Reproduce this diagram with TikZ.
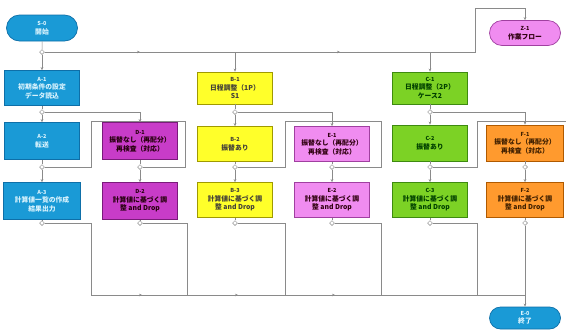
\documentclass[tikz,border=0pt]{standalone}
\usepackage{fontspec}
\setmainfont{Noto Sans CJK JP}
\usetikzlibrary{arrows.meta,shapes.misc,shapes.geometric}
\definecolor{bluef}{HTML}{1A9AD6}\definecolor{blued}{HTML}{0E6FA8}
\definecolor{yelf}{HTML}{FFFF2A}\definecolor{yeld}{HTML}{A09A00}
\definecolor{grnf}{HTML}{7CD225}\definecolor{grnd}{HTML}{3E8A10}
\definecolor{purf}{HTML}{C83CC8}\definecolor{purd}{HTML}{7A1A7A}
\definecolor{pnkf}{HTML}{F08CF0}\definecolor{pnkd}{HTML}{A040A0}
\definecolor{orgf}{HTML}{FF9A2E}\definecolor{orgd}{HTML}{B05A00}
\definecolor{lin}{HTML}{8A8A8A}
\newcommand{\cd}[1]{{\fontsize{5.5}{7}\selectfont #1}}
\begin{document}
\begin{tikzpicture}[x=1pt,y=-1pt,
  box/.style={draw,rectangle,line width=0.7pt,align=center,inner sep=1pt,
    minimum width=75pt,minimum height=35pt,font=\fontsize{6.8}{8.6}\selectfont\bfseries},
  bluebox/.style={box,fill=bluef,draw=blued,text=white!85!cyan},
  yelbox/.style={box,fill=yelf,draw=yeld,text=black!85!yellow},
  grnbox/.style={box,fill=grnf,draw=grnd,text=black!75!green},
  purbox/.style={box,fill=purf,draw=purd,text=black!80!purple},
  pnkbox/.style={box,fill=pnkf,draw=pnkd,text=black!75!purple},
  orgbox/.style={box,fill=orgf,draw=orgd,text=black!75!orange},
  term/.style={rounded rectangle,draw,line width=0.7pt,align=center,inner sep=1pt,
    minimum width=73pt,minimum height=26pt,font=\fontsize{6.8}{8.6}\selectfont\bfseries},
  junc/.style={diamond,draw=lin,fill=white,line width=0.5pt,inner sep=0pt,minimum size=5pt},
  ln/.style={draw=lin,line width=0.5pt},
  arr/.style={ln,-{Stealth[length=3pt,width=2.6pt]}},
  midarr/.style={ln,-{Stealth[length=3pt,width=2.6pt]}}
]
\useasboundingbox (0,0) rectangle (570,330);

% terminals
\node[term,fill=bluef,draw=blued,text=white!85!cyan] (start) at (42,28) {\cd{S-0}\\開始};
\node[term,fill=pnkf,draw=pnkd,text=black!75!purple,minimum height=25pt] (sub) at (525,33) {\cd{Z-1}\\作業フロー};
\node[term,fill=bluef,draw=blued,text=white!85!cyan,minimum height=22pt] (end) at (525,318) {\cd{E-0}\\終了};

% row 1
\node[bluebox] (A1) at (42,88) {\cd{A-1}\\初期条件の設定\\データ読込};
\node[yelbox,minimum height=32pt] (B1) at (235,88) {\cd{B-1}\\日程調整（1P）\\S1};
\node[grnbox,minimum height=32pt] (C1) at (430,88) {\cd{C-1}\\日程調整（2P）\\ケース2};

% row 2
\node[bluebox,minimum height=37pt] (A2) at (42,141) {\cd{A-2}\\転送};
\node[purbox,minimum height=37pt] (D1) at (140,141) {\cd{D-1}\\振替なし（再配分）\\再検査（対応）};
\node[yelbox] (B2) at (235,144) {\cd{B-2}\\振替あり};
\node[pnkbox] (E1) at (332,144) {\cd{E-1}\\振替なし（再配分）\\再検査（対応）};
\node[grnbox,minimum height=36pt] (C2) at (430,143) {\cd{C-2}\\振替あり};
\node[orgbox,minimum height=36pt,minimum width=77pt] (F1) at (525,143) {\cd{F-1}\\振替なし（再配分）\\再検査（対応）};

% row 3
\node[bluebox,minimum height=37pt,minimum width=77pt] (A3) at (42,201) {\cd{A-3}\\計算値一覧の作成\\結果出力};
\node[purbox,minimum height=37pt] (D2) at (140,201) {\cd{D-2}\\計算値に基づく調\\整 and Drop};
\node[yelbox] (B3) at (235,200) {\cd{B-3}\\計算値に基づく調\\整 and Drop};
\node[pnkbox] (E2) at (332,200) {\cd{E-2}\\計算値に基づく調\\整 and Drop};
\node[grnbox] (C3) at (430,200) {\cd{C-3}\\計算値に基づく調\\整 and Drop};
\node[orgbox,minimum width=77pt] (F2) at (525,200) {\cd{F-2}\\計算値に基づく調\\整 and Drop};

% junctions
\node[junc] (J0) at (42,52) {};
\node[junc] (J1a) at (42,112) {};
\node[junc] (J1b) at (235,112) {};
\node[junc] (J1c) at (430,112) {};
\node[junc] (J2a) at (42,167) {};
\node[junc] (J2d) at (140,167) {};
\node[junc] (J2b) at (235,167) {};
\node[junc] (J2e) at (332,167) {};
\node[junc] (J2c) at (430,167) {};
\node[junc] (J2f) at (525,167) {};
\node[junc] (J3a) at (42,223) {};
\node[junc] (J3d) at (140,223) {};
\node[junc] (J3b) at (235,223) {};
\node[junc] (J3e) at (332,223) {};
\node[junc] (J3c) at (430,223) {};
\node[junc] (J3f) at (525,223) {};

% coordinates
\coordinate (tA) at (475,52);
\coordinate (tB) at (475,8);
\coordinate (tC) at (525,8);
\coordinate (bL) at (91,295);
\coordinate (bR) at (525,295);

% top
\draw[ln] (start) -- (J0);
\draw[ln] (J0) -- (tA) -- (tB) -- (tC);
\draw[arr] (tC) -- (sub.north);
\draw[midarr] (J0) -- (140,52);
\draw[midarr] (235,52) -- (340,52);
\draw[arr] (J0) -- (A1.north);
\draw[arr] (J0 -| B1) -- (B1.north);
\draw[arr] (J0 -| C1) -- (C1.north);

% row1 -> row2
\draw[ln] (A1) -- (J1a);
\draw[ln] (B1) -- (J1b);
\draw[ln] (C1) -- (J1c);
\draw[arr] (J1a) -- (A2.north);
\draw[arr] (J1b) -- (B2.north);
\draw[arr] (J1c) -- (C2.north);
\draw[ln] (J1a) -- (J1a -| D1);
\draw[arr] (J1a -| D1) -- (D1.north);
\draw[ln] (J1b) -- (J1b -| E1);
\draw[arr] (J1b -| E1) -- (E1.north);
\draw[ln] (J1c) -- (J1c -| F1);
\draw[arr] (J1c -| F1) -- (F1.north);

% row2 frames and junctions
\draw[ln] (A2) -- (J2a);
\draw[ln] (D1) -- (J2d);
\draw[ln] (B2) -- (J2b);
\draw[ln] (E1) -- (J2e);
\draw[ln] (C2) -- (J2c);
\draw[ln] (F1) -- (J2f);
\draw[ln] (J2a) -- (91,167) -- (91,121) -- (185,121) -- (185,167) -- (J2d);
\draw[ln] (J2b) -- (285,167) -- (285,121) -- (381,121) -- (381,167) -- (J2e);
\draw[ln] (J2c) -- (477,167) -- (477,121) -- (566,121);
\draw[arr] (J2a) -- (A3.north);
\draw[arr] (J2d) -- (D2.north);
\draw[arr] (J2b) -- (B3.north);
\draw[arr] (J2e) -- (E2.north);
\draw[arr] (J2c) -- (C3.north);
\draw[arr] (J2f) -- (F2.north);

% row3 -> bottom
\draw[ln] (A3) -- (J3a);
\draw[ln] (D2) -- (J3d);
\draw[ln] (B3) -- (J3b);
\draw[ln] (E2) -- (J3e);
\draw[ln] (C3) -- (J3c);
\draw[ln] (F2) -- (J3f);
\draw[ln] (J3a) -- (91,223) -- (bL);
\draw[ln] (J3d) -- (187,223) -- (187,295);
\draw[ln] (J3b) -- (285,223) -- (285,295);
\draw[ln] (J3e) -- (381,223) -- (381,295);
\draw[ln] (J3c) -- (477,223) -- (477,295);
\draw[ln] (J3f) -- (bR);
\draw[ln] (bL) -- (bR);
\draw[midarr] (bL) -- (142,295);
\draw[midarr] (187,295) -- (238,295);
\draw[midarr] (285,295) -- (335,295);
\draw[arr] (bR) -- (end.north);
\end{tikzpicture}
\end{document}
